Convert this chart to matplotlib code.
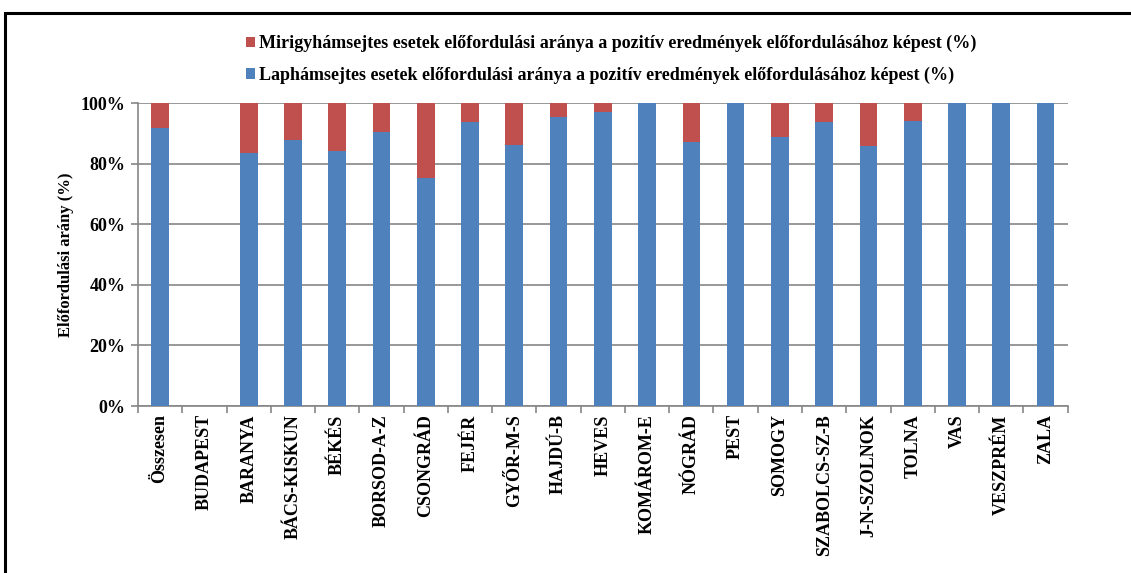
import matplotlib.pyplot as plt
import numpy as np
from matplotlib.patches import Rectangle
from matplotlib.ticker import PercentFormatter

plt.rcParams['font.family'] = ['Liberation Serif', 'DejaVu Serif']
plt.rcParams['font.weight'] = 'bold'

megyek = ['Összesen', 'BUDAPEST', 'BARANYA', 'BÁCS-KISKUN', 'BÉKÉS', 'BORSOD-A-Z',
          'CSONGRÁD', 'FEJÉR', 'GYŐR-M-S', 'HAJDÚ-B', 'HEVES', 'KOMÁROM-E',
          'NÓGRÁD', 'PEST', 'SOMOGY', 'SZABOLCS-SZ-B', 'J-N-SZOLNOK', 'TOLNA',
          'VAS', 'VESZPRÉM', 'ZALA']
# laphámsejtes arány (%), BUDAPEST-nél nincs adat
laphamsejtes = [91.8, 0, 83.4, 87.7, 84.1, 90.6, 75.2, 93.6, 86.0, 95.3, 97.2,
                100, 87.0, 100, 88.7, 93.6, 85.8, 94.2, 100, 100, 100]
mirigyhamsejtes = [8.2, 0, 16.6, 12.3, 15.9, 9.4, 24.8, 6.4, 14.0, 4.7, 2.8,
                   0, 13.0, 0, 11.3, 6.4, 14.2, 5.8, 0, 0, 0]

kek = '#4F81BD'
piros = '#C0504D'
szurke = '#868686'

fig = plt.figure(figsize=(11.31, 5.73), dpi=100)
ax = fig.add_axes([0.122, 0.2914, 0.822, 0.5288])

x = np.arange(len(megyek))
b1 = ax.bar(x, laphamsejtes, width=0.4, color=kek, zorder=3,
            label='Laphámsejtes esetek előfordulási aránya a pozitív eredmények előfordulásához képest (%)')
b2 = ax.bar(x, mirigyhamsejtes, width=0.4, bottom=laphamsejtes, color=piros, zorder=3,
            label='Mirigyhámsejtes esetek előfordulási aránya a pozitív eredmények előfordulásához képest (%)')

ax.set_xlim(-0.5, len(megyek) - 0.5)
ax.set_ylim(0, 100)
ax.set_yticks(np.arange(0, 101, 20))
ax.yaxis.set_major_formatter(PercentFormatter(decimals=0))
ax.yaxis.grid(True, color=szurke, linewidth=1.2, zorder=0)

ax.set_xticks(x)
ax.set_xticklabels(megyek, rotation=90, fontsize=13, fontweight='bold')
ax.set_xticks(np.arange(-0.5, len(megyek), 1), minor=True)
ax.tick_params(axis='x', which='major', length=0, pad=6)
ax.tick_params(axis='x', which='minor', length=5, color=szurke, width=1.2)
ax.tick_params(axis='y', length=5, color=szurke, width=1.2, labelsize=13, pad=4)
for lab in ax.get_yticklabels():
    lab.set_fontweight('bold')

for side in ['top', 'right']:
    ax.spines[side].set_visible(False)
for side in ['left', 'bottom']:
    ax.spines[side].set_color(szurke)
    ax.spines[side].set_linewidth(1.2)

ax.set_ylabel('Előfordulási arány (%)', fontsize=12, fontweight='bold', labelpad=5)

fig.legend([b2, b1], [b2.get_label(), b1.get_label()], loc='upper left',
           bbox_to_anchor=(0.203, 0.967), frameon=False,
           prop={'weight': 'bold', 'size': 13}, handlelength=0.5, handleheight=0.55,
           handletextpad=0.25, labelspacing=0.8)

# keret a diagram körül
fig.patches.append(Rectangle((0.004, -0.05), 1.05, 1.027, transform=fig.transFigure,
                             fill=False, edgecolor='black', linewidth=2.2))

fig.savefig('out.png', dpi=100)
